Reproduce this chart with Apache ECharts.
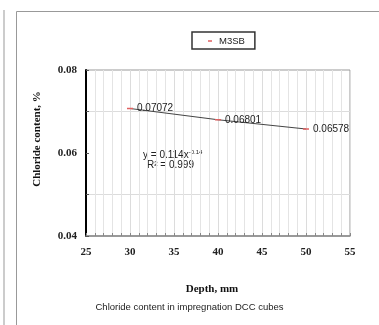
<!DOCTYPE html>
<html><head><meta charset="utf-8">
<script src="https://cdn.jsdelivr.net/npm/echarts@6/dist/echarts.min.js"></script>
<style>html,body{margin:0;padding:0;background:#fff}#c{width:379px;height:325px}</style>
</head><body><div id="c"></div>
<script>
const depths = [30, 40, 50];
const chloride = [0.07072, 0.06801, 0.06578];
const seriesName = 'M3SB';
const xTicks = [25, 30, 35, 40, 45, 50, 55];
const yTicks = [0.04, 0.06, 0.08];
const equationText = 'y = 0.114x';
const equationExp = '-0.14';
const r2Text = 'R² = 0.999';
const caption = 'Chloride content in impregnation DCC cubes';

const chart = echarts.init(document.getElementById('c'), null, {renderer: 'canvas'});
const serif = '"Liberation Serif", "Times New Roman", serif';
const sans = '"Liberation Sans", Arial, sans-serif';
chart.setOption({
  animation: false,
  backgroundColor: '#fff',
  title: {
    text: caption, left: 'center', top: 302, padding: 0,
    textStyle: {fontFamily: sans, fontSize: 9.5, fontWeight: 'normal', color: '#222'}
  },
  legend: {
    data: [seriesName], left: 192, top: 32,
    padding: [4, 10, 3, 16], borderColor: '#333', borderWidth: 1.5, borderRadius: 0,
    icon: 'rect', itemWidth: 4, itemHeight: 1.5, itemGap: 4,
    itemStyle: {color: '#e06060'},
    textStyle: {fontFamily: sans, fontSize: 9.5, color: '#222', padding: [0, 0, 0, 2]}
  },
  grid: {left: 86, top: 70, right: 29, bottom: 89, show: true, borderColor: '#999', borderWidth: 1},
  xAxis: {
    type: 'value', min: xTicks[0], max: xTicks[xTicks.length - 1], interval: 5,
    name: 'Depth, mm', nameLocation: 'middle', nameGap: 48,
    nameTextStyle: {fontFamily: serif, fontWeight: 'bold', fontSize: 11, color: '#111', padding: [0, 12, 0, 0]},
    axisLine: {show: true, lineStyle: {color: '#888', width: 1.5}},
    axisTick: {show: true, inside: true, length: 3, lineStyle: {color: '#888'}},
    minorTick: {show: true, splitNumber: 5, length: 3, lineStyle: {color: '#888'}},
    splitLine: {show: true, lineStyle: {color: '#dcdcdc', width: 1}},
    minorSplitLine: {show: true, lineStyle: {color: '#e4e4e4', width: 1}},
    axisLabel: {fontFamily: serif, fontWeight: 'bold', fontSize: 11, color: '#222', margin: 11}
  },
  yAxis: {
    type: 'value', min: yTicks[0], max: yTicks[yTicks.length - 1], interval: 0.02,
    name: 'Chloride content, %', nameLocation: 'middle', nameGap: 43, nameRotate: 90,
    nameTextStyle: {fontFamily: serif, fontWeight: 'bold', fontSize: 11, color: '#111', padding: [0, 0, 0, 28]},
    axisLine: {show: true, lineStyle: {color: '#000', width: 2}},
    axisTick: {show: true, inside: true, length: 3, lineStyle: {color: '#555'}},
    minorTick: {show: true, splitNumber: 2, length: 3, lineStyle: {color: '#555'}},
    splitLine: {show: false},
    minorSplitLine: {show: true, lineStyle: {color: '#dcdcdc', width: 1}},
    axisLabel: {fontFamily: serif, fontWeight: 'bold', fontSize: 11, color: '#222', margin: 9,
      formatter: v => v.toFixed(2)}
  },
  series: [{
    name: seriesName, type: 'line',
    data: depths.map((d, i) => [d, chloride[i]]),
    symbol: 'rect', symbolSize: [6, 1.5],
    itemStyle: {color: '#e06060'},
    lineStyle: {color: '#444', width: 1},
    label: {show: true, position: 'right', distance: 4,
      formatter: p => p.value[1].toFixed(5),
      fontFamily: sans, fontSize: 10, color: '#222'}
  }],
  graphic: [
    {type: 'line', shape: {x1: 4, y1: 10, x2: 4, y2: 325}, style: {stroke: '#999', lineWidth: 1}},
    {type: 'polyline', shape: {points: [[16.5, 325], [16.5, 11.5], [379, 11.5]]}, style: {stroke: '#999', lineWidth: 1, fill: null}},
    {type: 'text', left: 143, top: 149, style: {
      text: '{a|' + equationText + '}{b|' + equationExp + '}',
      rich: {a: {fontFamily: sans, fontSize: 10, fill: '#222'},
             b: {fontFamily: sans, fontSize: 6, fill: '#222', verticalAlign: 'top', padding: [0, 0, 6, 0]}}
    }},
    {type: 'text', left: 147, top: 160, style: {text: r2Text, fontFamily: sans, fontSize: 10, fill: '#222'}}
  ]
});
</script></body></html>
